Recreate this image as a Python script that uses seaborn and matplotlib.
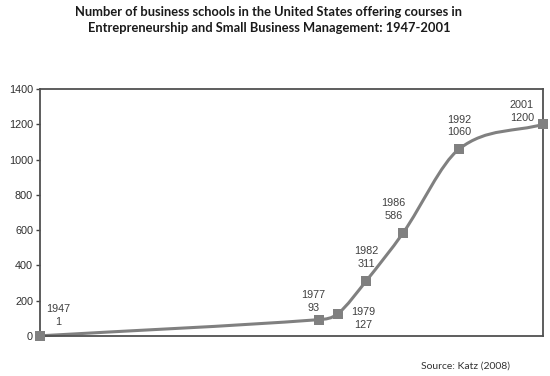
import matplotlib
matplotlib.use("Agg")
import matplotlib.pyplot as plt
from matplotlib.path import Path
from matplotlib.patches import PathPatch
import seaborn as sns
import pandas as pd

# data
years = [1947, 1977, 1979, 1982, 1986, 1992, 2001]
schools = [1, 93, 127, 311, 586, 1060, 1200]
# label offsets in pixels (dx, dy)
label_dx = [18, -6, 25, 0, -10, 0, -21]
label_dy = [20, 18, -5, 24, 23, 23, 13]
y_ticks = [0, 200, 400, 600, 800, 1000, 1200, 1400]

df = pd.DataFrame({"year": years, "schools": schools})

sns.set_style("white")
plt.rcParams["font.family"] = ["Liberation Sans", "DejaVu Sans"]

fig = plt.figure(figsize=(5.5, 3.76), dpi=100)
ax = fig.add_axes([40 / 550, 1 - 336 / 376, 503 / 550, 247 / 376])

gray = "#808080"

# smoothed line: cubic hermite over x, slopes from neighbouring points
n = len(years)
slopes = []
for i in range(n):
    a = max(i - 1, 0)
    b = min(i + 1, n - 1)
    slopes.append((schools[b] - schools[a]) / (years[b] - years[a]))
verts = [(years[0], schools[0])]
codes = [Path.MOVETO]
for i in range(n - 1):
    h = (years[i + 1] - years[i]) / 3
    verts += [(years[i] + h, schools[i] + slopes[i] * h),
              (years[i + 1] - h, schools[i + 1] - slopes[i + 1] * h),
              (years[i + 1], schools[i + 1])]
    codes += [Path.CURVE4] * 3
ax.add_patch(PathPatch(Path(verts, codes), facecolor="none", edgecolor=gray,
                       lw=2.2, clip_on=False, zorder=2))

sns.scatterplot(data=df, x="year", y="schools", marker="s", s=55, color=gray,
                edgecolor=gray, linewidth=0, ax=ax, clip_on=False, zorder=3)

for x, y, dx, dy in zip(years, schools, label_dx, label_dy):
    ax.annotate(f"{x}\n{y}", (x, y), xytext=(dx, dy), textcoords="offset pixels",
                ha="center", va="center", fontsize=7.8, color="#404040",
                linespacing=1.35)

ax.set_xlim(1947, 2001)
ax.set_ylim(0, 1400)
ax.set_xticks([])
ax.set_yticks(y_ticks)
ax.tick_params(axis="y", direction="out", length=3, width=1, color="#404040",
               labelsize=7.8, labelcolor="#303030", pad=2, left=True)
ax.set_xlabel("")
ax.set_ylabel("")
for sp in ax.spines.values():
    sp.set_visible(True)
    sp.set_color("#505050")
    sp.set_linewidth(1.3)

fig.text(0.489, 0.947, "Number of business schools in the United States offering courses in\n"
         "Entrepreneurship and Small Business Management: 1947-2001",
         ha="center", va="center", fontsize=9.3, fontweight="bold",
         family=["Lato", "DejaVu Sans"], color="#1a1a1a", linespacing=1.45)
fig.text(0.847, 0.027, "Source: Katz (2008)", ha="center", va="center",
         fontsize=7.5, family=["Lato", "DejaVu Sans"], color="#333333")

fig.savefig("out.png", dpi=100)
